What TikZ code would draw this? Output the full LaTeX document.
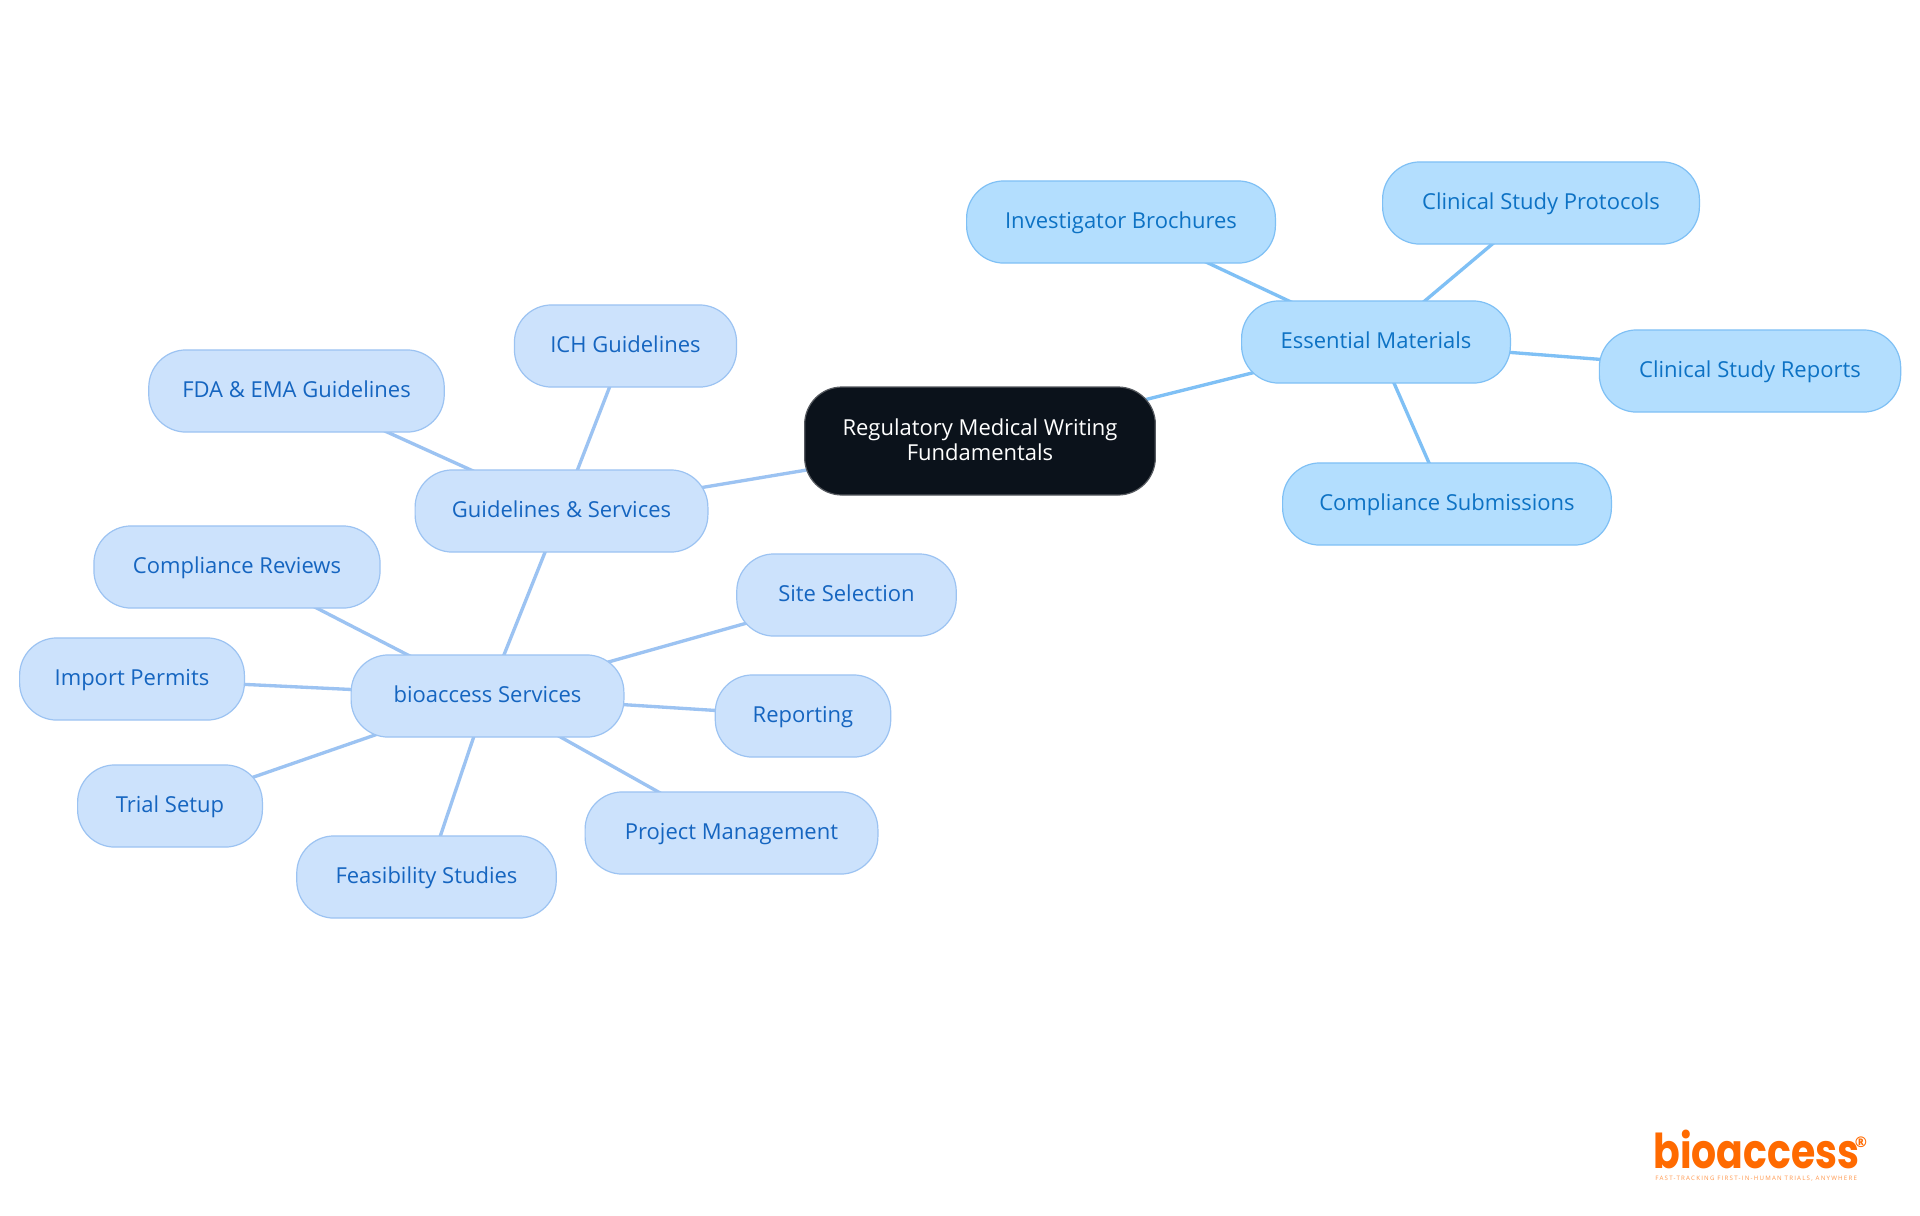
\documentclass[tikz,border=0pt]{standalone}
\usepackage{fontspec}
\setmainfont{Open Sans}
\newfontfamily\logofont[FakeStretch=0.82]{Poppins}
\newfontfamily\tagfont[LetterSpace=20]{Open Sans}
\usetikzlibrary{backgrounds}
\definecolor{rootfill}{HTML}{0B121B}
\definecolor{rootline}{HTML}{55595F}
\definecolor{skyfill}{HTML}{B3DEFE}
\definecolor{skyline}{HTML}{7FC0F5}
\definecolor{skytext}{HTML}{0D72C4}
\definecolor{bluefill}{HTML}{CCE2FC}
\definecolor{blueline}{HTML}{9CC3F2}
\definecolor{bluetext}{HTML}{1565C0}
\definecolor{logoorange}{HTML}{FF6A00}
\tikzset{
  x=0.75pt,y=-0.75pt,
  box/.style={rectangle,rounded corners=28pt,line width=0.9pt,inner sep=0pt,align=center,minimum height=61.6pt,font=\fontsize{16.5pt}{18.75pt}\selectfont,text height=15pt,text depth=5.2pt},
  rootbox/.style={box,fill=rootfill,draw=rootline,text=white,minimum height=81pt,text height=33.5pt,text depth=5pt},
  sky/.style={box,fill=skyfill,draw=skyline,text=skytext},
  pale/.style={box,fill=bluefill,draw=blueline,text=bluetext},
  skyedge/.style={draw=skyline,line width=2.5pt},
  paleedge/.style={draw=blueline,line width=2.5pt},
}
\begin{document}
\begin{tikzpicture}
\useasboundingbox (0,0) rectangle (1920,1215);
\node[rootbox,minimum width=263pt] (root) at (980,441) {Regulatory Medical Writing\\Fundamentals};
\node[sky,minimum width=201.6pt] (em) at (1376,342) {Essential Materials};
\node[sky,minimum width=231.6pt] (ib) at (1121,222) {Investigator Brochures};
\node[sky,minimum width=237.6pt] (csp) at (1541,203) {Clinical Study Protocols};
\node[sky,minimum width=226pt] (csr) at (1750,371) {Clinical Study Reports};
\node[sky,minimum width=246.6pt] (cs) at (1447,504) {Compliance Submissions};
\node[pale,minimum width=219.6pt] (gs) at (561.5,511) {Guidelines \& Services};
\node[pale,minimum width=166.6pt] (ich) at (625.5,346) {ICH Guidelines};
\node[pale,minimum width=221.6pt] (fda) at (296.5,391) {FDA \& EMA Guidelines};
\node[pale,minimum width=204.6pt] (bs) at (487.5,696) {bioaccess Services};
\node[pale,minimum width=214.6pt] (cr) at (237,567) {Compliance Reviews};
\node[pale,minimum width=168.6pt] (ip) at (132,679) {Import Permits};
\node[pale,minimum width=138.6pt] (ts) at (170,806) {Trial Setup};
\node[pale,minimum width=194.6pt] (fs) at (426.5,877) {Feasibility Studies};
\node[pale,minimum width=219.6pt] (pm) at (731.5,833) {Project Management};
\node[pale,minimum width=131.6pt] (rep) at (803,716) {Reporting};
\node[pale,minimum width=164.6pt] (ss) at (846.5,595) {Site Selection};
\begin{scope}[on background layer]
\fill[white] (0,0) rectangle (1920,1215);
\foreach \a/\b in {root/em,em/ib,em/csp,em/csr,em/cs}
  \draw[skyedge] (\a.center) -- (\b.center);
\foreach \a/\b in {root/gs,gs/ich,gs/fda,gs/bs,bs/cr,bs/ip,bs/ts,bs/fs,bs/pm,bs/rep,bs/ss}
  \draw[paleedge] (\a.center) -- (\b.center);
\end{scope}
\node[text=logoorange,inner sep=0pt,anchor=base west,font=\logofont\bfseries\fontsize{36pt}{36pt}\selectfont] (logo) at (1653,1168) {bioaccess};
\node[text=logoorange,inner sep=0pt,anchor=center,font=\bfseries\fontsize{11pt}{11pt}\selectfont] (reg) at (1861,1142) {®};
\node[text=logoorange!70,inner sep=0pt,anchor=base west,font=\tagfont\fontsize{4.6pt}{5pt}\selectfont] (tag) at (1655,1180) {FAST-TRACKING FIRST-IN-HUMAN TRIALS, ANYWHERE};
\end{tikzpicture}
\end{document}
